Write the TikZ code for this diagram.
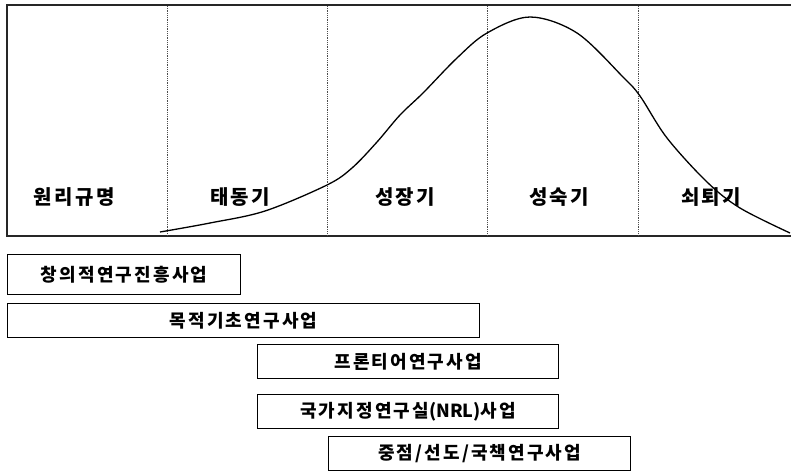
\documentclass[tikz,border=0pt]{standalone}
\usepackage{fontspec}
\newfontfamily\kr[LetterSpace=12]{Noto Sans CJK KR}
\newfontfamily\krtight{Noto Sans CJK KR}
\begin{document}
\begin{tikzpicture}[x=1pt,y=-1pt,
  frame/.style={line width=1.6pt,black!85},
  sep/.style={densely dotted,line width=0.8pt,black!70},
  stage/.style={font=\kr\bfseries\fontsize{20}{20}\selectfont,inner sep=0pt},
  prog/.style={draw,line width=1.3pt,font=\kr\bfseries\fontsize{18}{18}\selectfont,inner sep=0pt,anchor=north west},
  curve/.style={line width=1.3pt}]
\useasboundingbox (0,0) rectangle (791,471);
% frame
\coordinate (tl) at (7,5);
\coordinate (tr) at (791,5);
\coordinate (bl) at (7,236);
\coordinate (br) at (791,236);
\draw[frame] (tr) -- (tl) -- (bl) -- (br);
% separators
\foreach \x/\n in {167/s1,327/s2,487/s3,638/s4}{
  \coordinate (\n t) at (\x,6);
  \coordinate (\n b) at (\x,235);
  \draw[sep] (\n t) -- (\n b);
}
% stage labels
\node[stage] (l1) at (74,197) {원리규명};
\node[stage] (l2) at (240,197) {태동기};
\node[stage] (l3) at (405,197) {성장기};
\node[stage] (l4) at (559,197) {성숙기};
\node[stage] (l5) at (711,197) {쇠퇴기};
% curve
\draw[curve] plot[smooth,tension=0.55] coordinates {(160,232) (210,223) (265,211) (327,185) (352,168) (377,142) (400,115) (423,93) (457,58) (487,33) (530,17) (577,33) (623,77) (640,96) (667,138) (707,182) (740,208) (790,233)};
% programme boxes
\node[prog,minimum width=233pt,minimum height=40pt] (p1) at (7,254) {창의적연구진흥사업};
\node[prog,minimum width=472pt,minimum height=34pt] (p2) at (7,303) {목적기초연구사업};
\node[prog,minimum width=301pt,minimum height=34pt] (p3) at (257,344) {프론티어연구사업};
\node[prog,minimum width=301pt,minimum height=34pt] (p4) at (257,394) {국가지정연구실{\krtight\bfseries (NRL)}사업};
\node[prog,minimum width=302pt,minimum height=34pt] (p5) at (328,436) {중점/선도/국책연구사업};
\end{tikzpicture}
\end{document}
